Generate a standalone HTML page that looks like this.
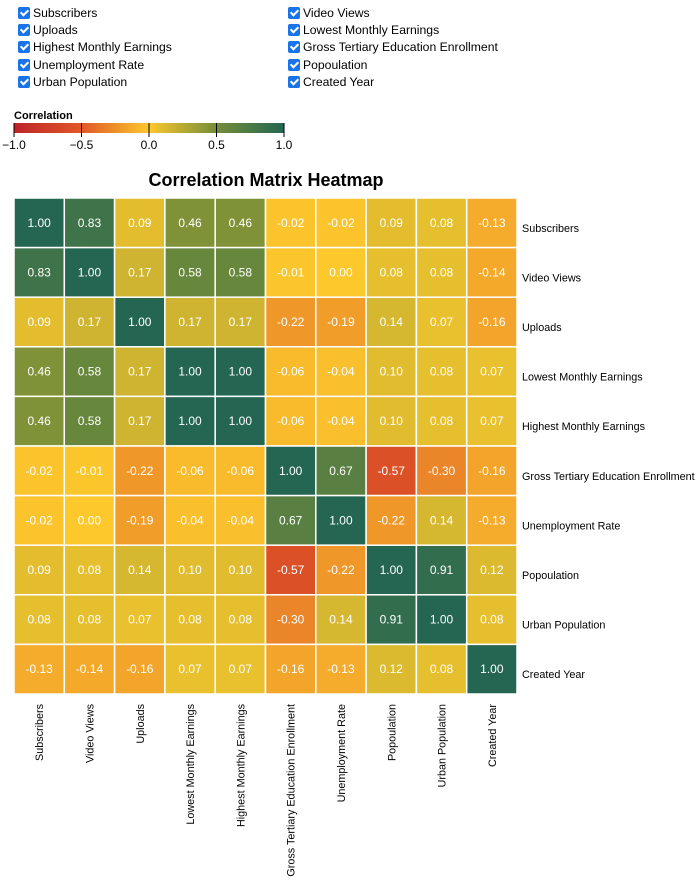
<!DOCTYPE html>
<html><head><meta charset="utf-8"><style>
body{margin:0;width:700px;height:885px;background:#fff;font-family:"Liberation Sans",sans-serif;position:relative;overflow:hidden}
.cb{position:absolute;font-size:12.2px;color:#000;display:flex;align-items:center;height:17px}
.box{width:12px;height:12px;background:#1a73e8;border-radius:2px;margin-right:3px;position:relative}
.box:after{content:"";position:absolute;left:3.5px;top:1px;width:3px;height:6px;border:solid #fff;border-width:0 2px 2px 0;transform:rotate(45deg)}
</style></head><body>
<div id="checks"></div>
<svg id="chart" width="700" height="885" style="position:absolute;left:0;top:0"></svg>
<script>
const labels=["Subscribers","Video Views","Uploads","Lowest Monthly Earnings","Highest Monthly Earnings","Gross Tertiary Education Enrollment","Unemployment Rate","Popoulation","Urban Population","Created Year"];
const checkLabels=["Subscribers","Video Views","Uploads","Lowest Monthly Earnings","Highest Monthly Earnings","Gross Tertiary Education Enrollment","Unemployment Rate","Popoulation","Urban Population","Created Year"];
const matrix=[
[1.00,0.83,0.09,0.46,0.46,-0.02,-0.02,0.09,0.08,-0.13],
[0.83,1.00,0.17,0.58,0.58,-0.01,0.00,0.08,0.08,-0.14],
[0.09,0.17,1.00,0.17,0.17,-0.22,-0.19,0.14,0.07,-0.16],
[0.46,0.58,0.17,1.00,1.00,-0.06,-0.04,0.10,0.08,0.07],
[0.46,0.58,0.17,1.00,1.00,-0.06,-0.04,0.10,0.08,0.07],
[-0.02,-0.01,-0.22,-0.06,-0.06,1.00,0.67,-0.57,-0.30,-0.16],
[-0.02,0.00,-0.19,-0.04,-0.04,0.67,1.00,-0.22,0.14,-0.13],
[0.09,0.08,0.14,0.10,0.10,-0.57,-0.22,1.00,0.91,0.12],
[0.08,0.08,0.07,0.08,0.08,-0.30,0.14,0.91,1.00,0.08],
[-0.13,-0.14,-0.16,0.07,0.07,-0.16,-0.13,0.12,0.08,1.00]];
const legendTicks=[-1,-0.5,0,0.5,1];
const tickText=["\u22121.0","\u22120.5","0.0","0.5","1.0"];

const stops=[[-1,[192,34,42]],[-0.5,[224,88,40]],[0,[252,200,44]],[0.5,[116,141,57]],[1,[36,102,82]]];
function color(v){for(let i=0;i<stops.length-1;i++){const a=stops[i],b=stops[i+1];if(v<=b[0]){const t=(v-a[0])/(b[0]-a[0]);return "rgb("+a[1].map((c,k)=>Math.round(c+(b[1][k]-c)*t)).join(",")+")";}}return "rgb(36,102,82)";}

const checks=document.getElementById('checks');
checkLabels.forEach((l,i)=>{const d=document.createElement('div');d.className='cb';


d.style.left=(i%2?288:18)+'px';d.style.top=(4+Math.floor(i/2)*17.4)+'px';
d.innerHTML='<span class="box"></span>'+l;checks.appendChild(d);});

const NS="http://www.w3.org/2000/svg",svg=document.getElementById('chart');
function el(t,a,p){const e=document.createElementNS(NS,t);for(const k in a)e.setAttribute(k,a[k]);(p||svg).appendChild(e);return e;}
const lx0=14,lx1=284,ly=123;
const lx=v=>lx0+(v+1)/2*(lx1-lx0);
const defs=el('defs',{});const g=el('linearGradient',{id:'lg'},defs);
for(let i=0;i<=20;i++){const v=-1+i/10;el('stop',{offset:(i*5)+'%','stop-color':color(v)},g);}
const lt=el('text',{x:14,y:119,'font-size':11,'font-weight':'bold'});lt.textContent="Correlation";

const lr=el('rect',{x:lx0,y:ly,width:lx1-lx0,height:10,fill:'url(#lg)'});

legendTicks.forEach((v,i)=>{const ln=el('line',{x1:lx(v),x2:lx(v),y1:ly,y2:ly+14,stroke:'#000','stroke-width':1});

const t=el('text',{x:lx(v),y:ly+26,'font-size':12,'text-anchor':'middle'});t.textContent=tickText[i];
});
const tt=el('text',{x:266,y:186,'font-size':18,'font-weight':'bold','text-anchor':'middle'});tt.textContent="Correlation Matrix Heatmap";

const X0=14,Y0=198,CW=50.3,CH=49.6;
const xs=i=>X0+i*CW, ys=i=>Y0+i*CH;
matrix.forEach((row,r)=>row.forEach((v,c)=>{
 const rc=el('rect',{x:xs(c),y:ys(r),width:CW,height:CH,fill:color(v),stroke:'#fff','stroke-width':1.5});
 
 const t=el('text',{x:xs(c)+CW/2,y:ys(r)+CH/2+4,'font-size':12,fill:'#fff','text-anchor':'middle'});t.textContent=v.toFixed(2);
 
}));
labels.forEach((l,i)=>{
 const t=el('text',{x:522,y:ys(i)+CH/2+9,'font-size':10.8});t.textContent=l;
 
 const cx=xs(i)+CW/2+4,cy=Y0+10*CH+10;
 const t2=el('text',{x:cx,y:cy,'font-size':10.8,'text-anchor':'end',transform:'rotate(-90 '+cx+' '+cy+')'});t2.textContent=l;
 
});
</script>
</body></html>
